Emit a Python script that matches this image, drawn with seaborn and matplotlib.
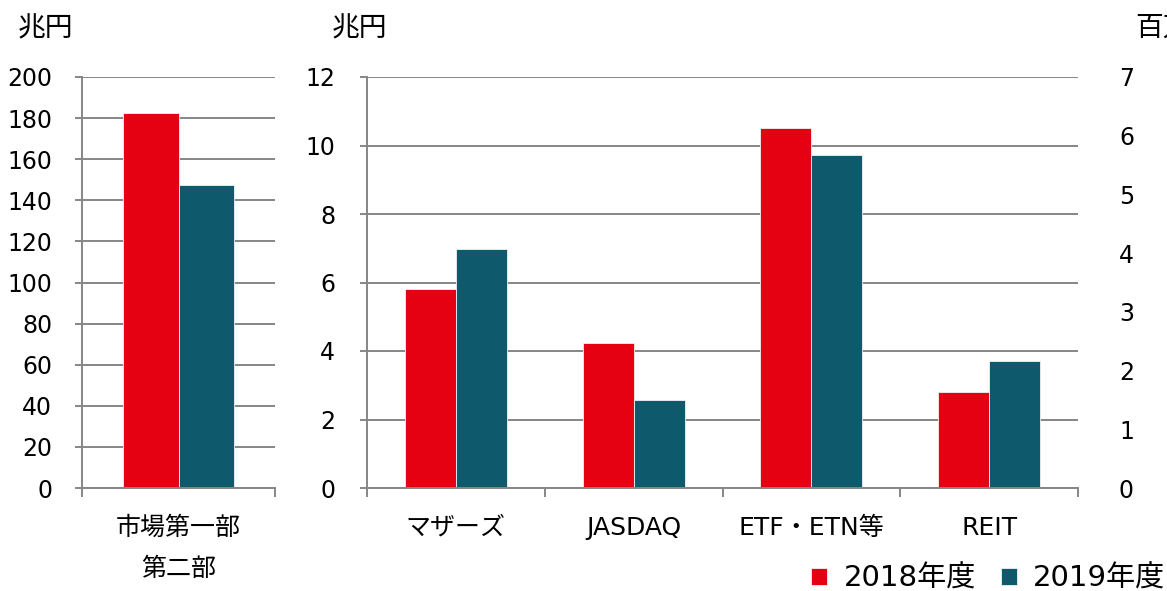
import pandas as pd
import matplotlib
matplotlib.use("Agg")
import matplotlib.pyplot as plt
import seaborn as sns

# values
years = ["2018年度", "2019年度"]
main_cats = ["市場第一部\n第二部"]
main_2018 = [182.5]
main_2019 = [147.5]
sub_cats = ["マザーズ", "JASDAQ", "ETF・ETN等", "REIT"]
sub_2018 = [5.82, 4.22, 10.51, 2.80]
sub_2019 = [6.97, 2.57, 9.72, 3.71]
right_ticks = [0, 1, 2, 3, 4, 5, 6, 7]

RED = "#E50012"
TEAL = "#0E596B"
GRID = "#868686"

sns.set_style("white")
plt.rcParams["font.family"] = ["DejaVu Sans", "Noto Sans CJK JP"]
plt.rcParams["text.color"] = "black"
plt.rcParams["xtick.labelcolor"] = "black"
plt.rcParams["ytick.labelcolor"] = "black"


def to_long(cats, v18, v19):
    rows = []
    for c, a, b in zip(cats, v18, v19):
        rows.append({"cat": c, "year": years[0], "value": a})
        rows.append({"cat": c, "year": years[1], "value": b})
    return pd.DataFrame(rows)


def style_axis(ax, ylim, step, ypad):
    ax.set_ylim(0, ylim)
    ax.set_yticks(range(0, ylim + 1, step))
    ax.yaxis.grid(True, color=GRID, lw=1.4)
    ax.xaxis.grid(False)
    ax.set_axisbelow(True)
    for s in ["top", "right"]:
        ax.spines[s].set_visible(False)
    for s in ["left", "bottom"]:
        ax.spines[s].set_color(GRID)
        ax.spines[s].set_linewidth(1.4)
    ax.tick_params(axis="y", left=True, length=5, width=1.4, color=GRID,
                   labelsize=17, pad=ypad, labelcolor="black")
    ax.tick_params(axis="x", which="major", length=0, labelsize=18, pad=20,
                   labelcolor="black")
    ax.tick_params(axis="x", which="minor", bottom=True, length=6.5,
                   width=1.4, color=GRID)
    ax.set_xlabel("")
    ax.set_ylabel("")


fig = plt.figure(figsize=(11.67, 5.91), dpi=100)
W, H = 1167, 591

ax1 = fig.add_axes([82 / W, (H - 488) / H, 193 / W, 411 / H])
ax2 = fig.add_axes([367 / W, (H - 488) / H, 711 / W, 411 / H])
ax3 = fig.add_axes([1168 / W, (H - 488) / H, 200 / W, 411 / H])

df1 = to_long(main_cats, main_2018, main_2019)
df2 = to_long(sub_cats, sub_2018, sub_2019)

sns.barplot(data=df1, x="cat", y="value", hue="year", palette=[RED, TEAL],
            saturation=1, width=0.575, gap=0, edgecolor="#f2f2f2",
            linewidth=0.6, legend=False, ax=ax1)
sns.barplot(data=df2, x="cat", y="value", hue="year", palette=[RED, TEAL],
            saturation=1, width=0.575, gap=0, edgecolor="#f2f2f2",
            linewidth=0.6, ax=ax2)

style_axis(ax1, 200, 20, 16.5)
style_axis(ax2, 12, 2, 18)
ax1.set_xlim(-0.5, 0.5)
ax1.set_xticks([-0.5, 0.5], minor=True)
ax2.set_xlim(-0.5, len(sub_cats) - 0.5)
ax2.set_xticks([i - 0.5 for i in range(len(sub_cats) + 1)], minor=True)
for lab in ax1.get_xticklabels():
    lab.set_linespacing(1.9)

# third axis, mostly cut off at the right edge
ax3.set_ylim(0, 7)
ax3.set_yticks(right_ticks)
ax3.set_xticks([])
ax3.yaxis.grid(True, color=GRID, lw=1.4)
for s in ["top", "right", "bottom"]:
    ax3.spines[s].set_visible(False)
ax3.spines["left"].set_color(GRID)
ax3.tick_params(axis="y", length=5, width=1.4, color=GRID, labelsize=17,
                pad=19.5, labelcolor="black")

fig.text(18 / W, 1 - 28 / H, "兆円", fontsize=20, va="center", ha="left")
fig.text(332 / W, 1 - 28 / H, "兆円", fontsize=20, va="center", ha="left")
fig.text(1135 / W, 1 - 28 / H, "百万口", fontsize=20, va="center", ha="left")

handles, labels = ax2.get_legend_handles_labels()
ax2.get_legend().remove()
fig.legend(handles, labels, loc="center right", bbox_to_anchor=(1165 / W, 12 / H),
           ncol=2, frameon=False, fontsize=21, handlelength=0.55,
           handleheight=0.55, handletextpad=0.55, columnspacing=0.85,
           borderpad=0, borderaxespad=0)

fig.savefig("out.png", dpi=100)
